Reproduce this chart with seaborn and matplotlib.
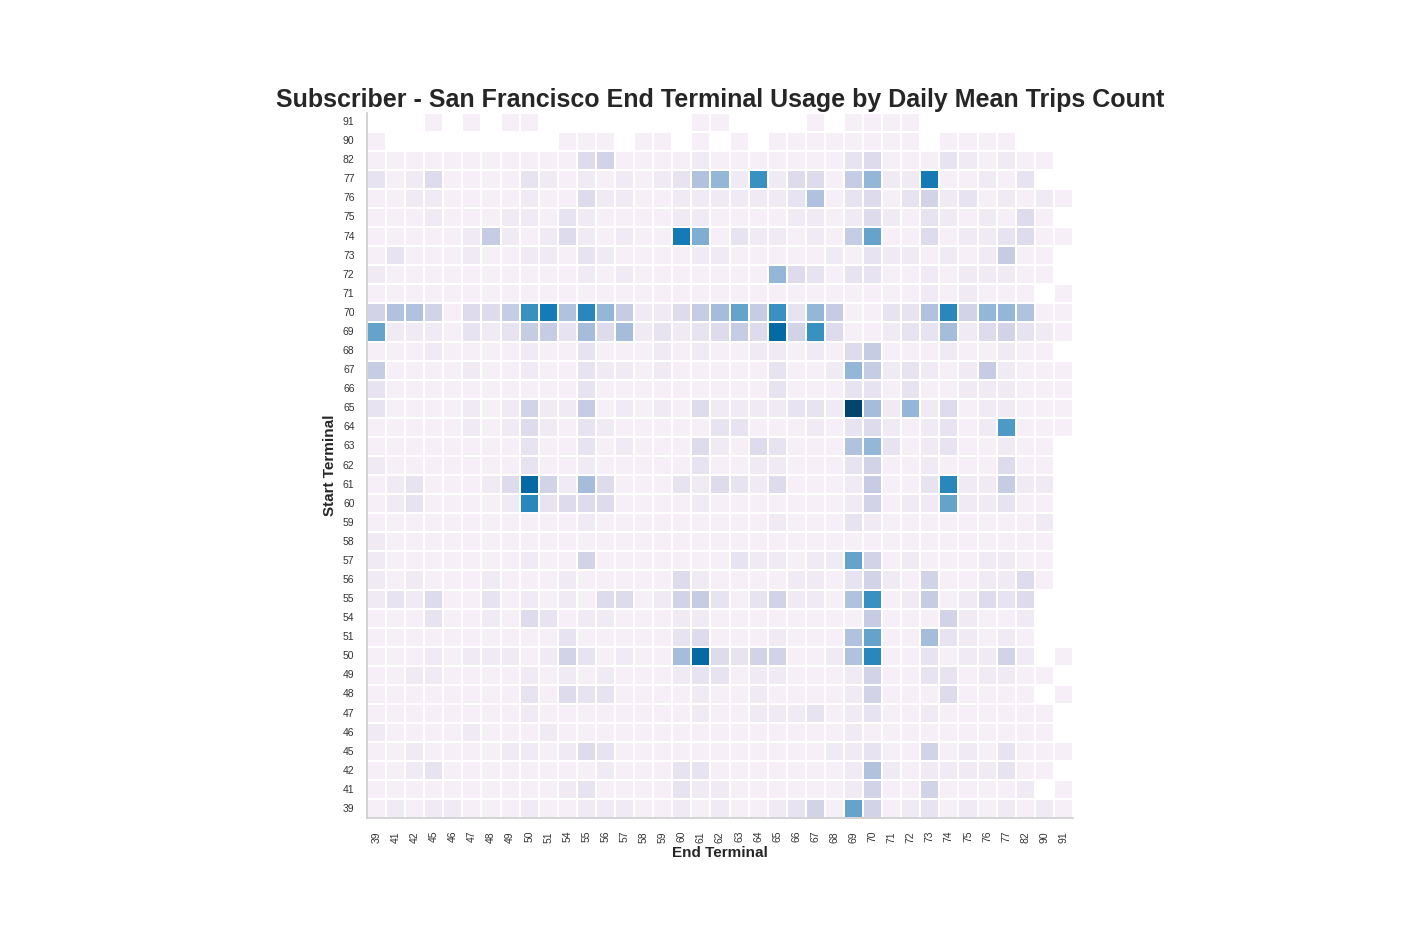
import numpy as np
import pandas as pd
import matplotlib
matplotlib.use("Agg")
import matplotlib.pyplot as plt
import seaborn as sns

terminals = [39, 41, 42, 45, 46, 47, 48, 49, 50, 51, 54, 55, 56, 57, 58, 59, 60, 61, 62,
             63, 64, 65, 66, 67, 68, 69, 70, 71, 72, 73, 74, 75, 76, 77, 82, 90, 91]

# estimated daily mean trips per level code ('.' = no trips)
level_values = {'0': 0.6, '1': 1.05, '2': 1.5, '3': 1.95, '4': 2.4, '5': 2.85, '6': 3.45,
                '7': 3.75, '8': 4.2, '9': 4.7, 'A': 5.3, 'B': 5.75, 'C': 6.2, 'D': 6.6,
                'E': 7.1, 'F': 7.9, 'G': 9.5}

# one row per start terminal (top to bottom), one code per end terminal
rows = {
    91: "...0.0.00. .......00. ...0.0000. .......",
    90: "0......... 000.00.0.0 .00000000. 0000...",
    82: "0000000000 0340000100 0000023000 210100.",
    77: "2013000021 0101012681 C13305811E 00102..",
    76: "0011000010 0311001111 1126023024 1201010",
    75: "0001000110 2100001100 0011013102 101030.",
    74: "0000015101 310100E902 110105A003 0112300",
    73: "0200010011 0210000110 0000102110 101500.",
    72: "1000000000 0101000000 0832022001 011100.",
    71: "0000000000 0000000000 0000000001 01000.0",
    70: "46640335CE 6D8511357A 5C28500226 D488600",
    69: "A111021255 2737121235 3F4C300122 7134210",
    68: "0001000010 0200010100 1101035000 100100.",
    67: "5000010010 0211010000 0200185121 0151000",
    66: "2000000000 0200000000 0200022020 0111000",
    65: "2000010141 1501010311 11221G7181 3011000",
    64: "0000010131 0210000022 0001023101 201B000",
    63: "0000000020 0201000310 3200068201 200100.",
    62: "1000000020 0100000200 1100024001 000300.",
    61: "01200013F4 1730002132 1300015002 D11511.",
    60: "01200001D2 3330000100 0000014011 A11200.",
    59: "0000000000 0100000000 0100021000 000001.",
    58: "1000000000 0000000000 0000000000 000000.",
    57: "1000000010 0400000002 11011A4010 001100.",
    56: "1010001000 1000003100 0011024104 001130.",
    55: "1213002010 1033014520 241106C015 01323..",
    54: "0002001032 0110001100 0000005000 41001..",
    51: "0000000000 2000002300 010006A007 21010..",
    50: "0001011101 4201007F32 440016D002 01141.0",
    49: "0011000010 1010001220 1100014002 201100.",
    48: "0000000020 3220000100 1000014000 30000.0",
    47: "0000000010 0000000100 1112012001 000000.",
    46: "1000010001 0000000000 0000010000 000000.",
    45: "0010000110 1320000000 0000112004 0102000",
    42: "0012000000 0010002200 0000016101 111200.",
    41: "0000000000 1200002110 0000014004 00001.0",
    39: "0101100010 0111001010 01240A4012 0101010",
}

data = {}
for start, codes in rows.items():
    codes = codes.replace(" ", "")
    assert len(codes) == len(terminals), start
    data[start] = [level_values.get(c, np.nan) for c in codes]
df = pd.DataFrame.from_dict(data, orient="index", columns=terminals)

sns.set_style("white")
plt.rcParams['font.family'] = ['Liberation Sans', 'DejaVu Sans']

fig = plt.figure(figsize=(14.04, 9.36), dpi=100)
ax = fig.add_axes([0.2614, 0.125, 0.5028, 0.7553])
sns.heatmap(df, cmap="PuBu", vmin=0, vmax=10, linewidths=1.4, linecolor="white",
            square=True, cbar=False, ax=ax)

for side in ["left", "bottom"]:
    ax.spines[side].set_visible(True)
    ax.spines[side].set_color("#cccccc")
    ax.spines[side].set_linewidth(1.2)

ax.set_xticklabels(terminals, rotation=90, fontsize=7.5, color="#333333")
ax.set_yticklabels(list(rows.keys()), rotation=0, fontsize=7.5, color="#333333")
ax.tick_params(axis="x", length=0, pad=9)
ax.tick_params(axis="y", length=0, pad=9)
ax.set_xlabel("End Terminal", fontsize=11, fontweight="bold", labelpad=2)
ax.set_ylabel("Start Terminal", fontsize=11, fontweight="bold", labelpad=4)
ax.set_title("Subscriber - San Francisco End Terminal Usage by Daily Mean Trips Count",
             fontsize=18, fontweight="bold", pad=4)

fig.savefig("out.png", dpi=100)
